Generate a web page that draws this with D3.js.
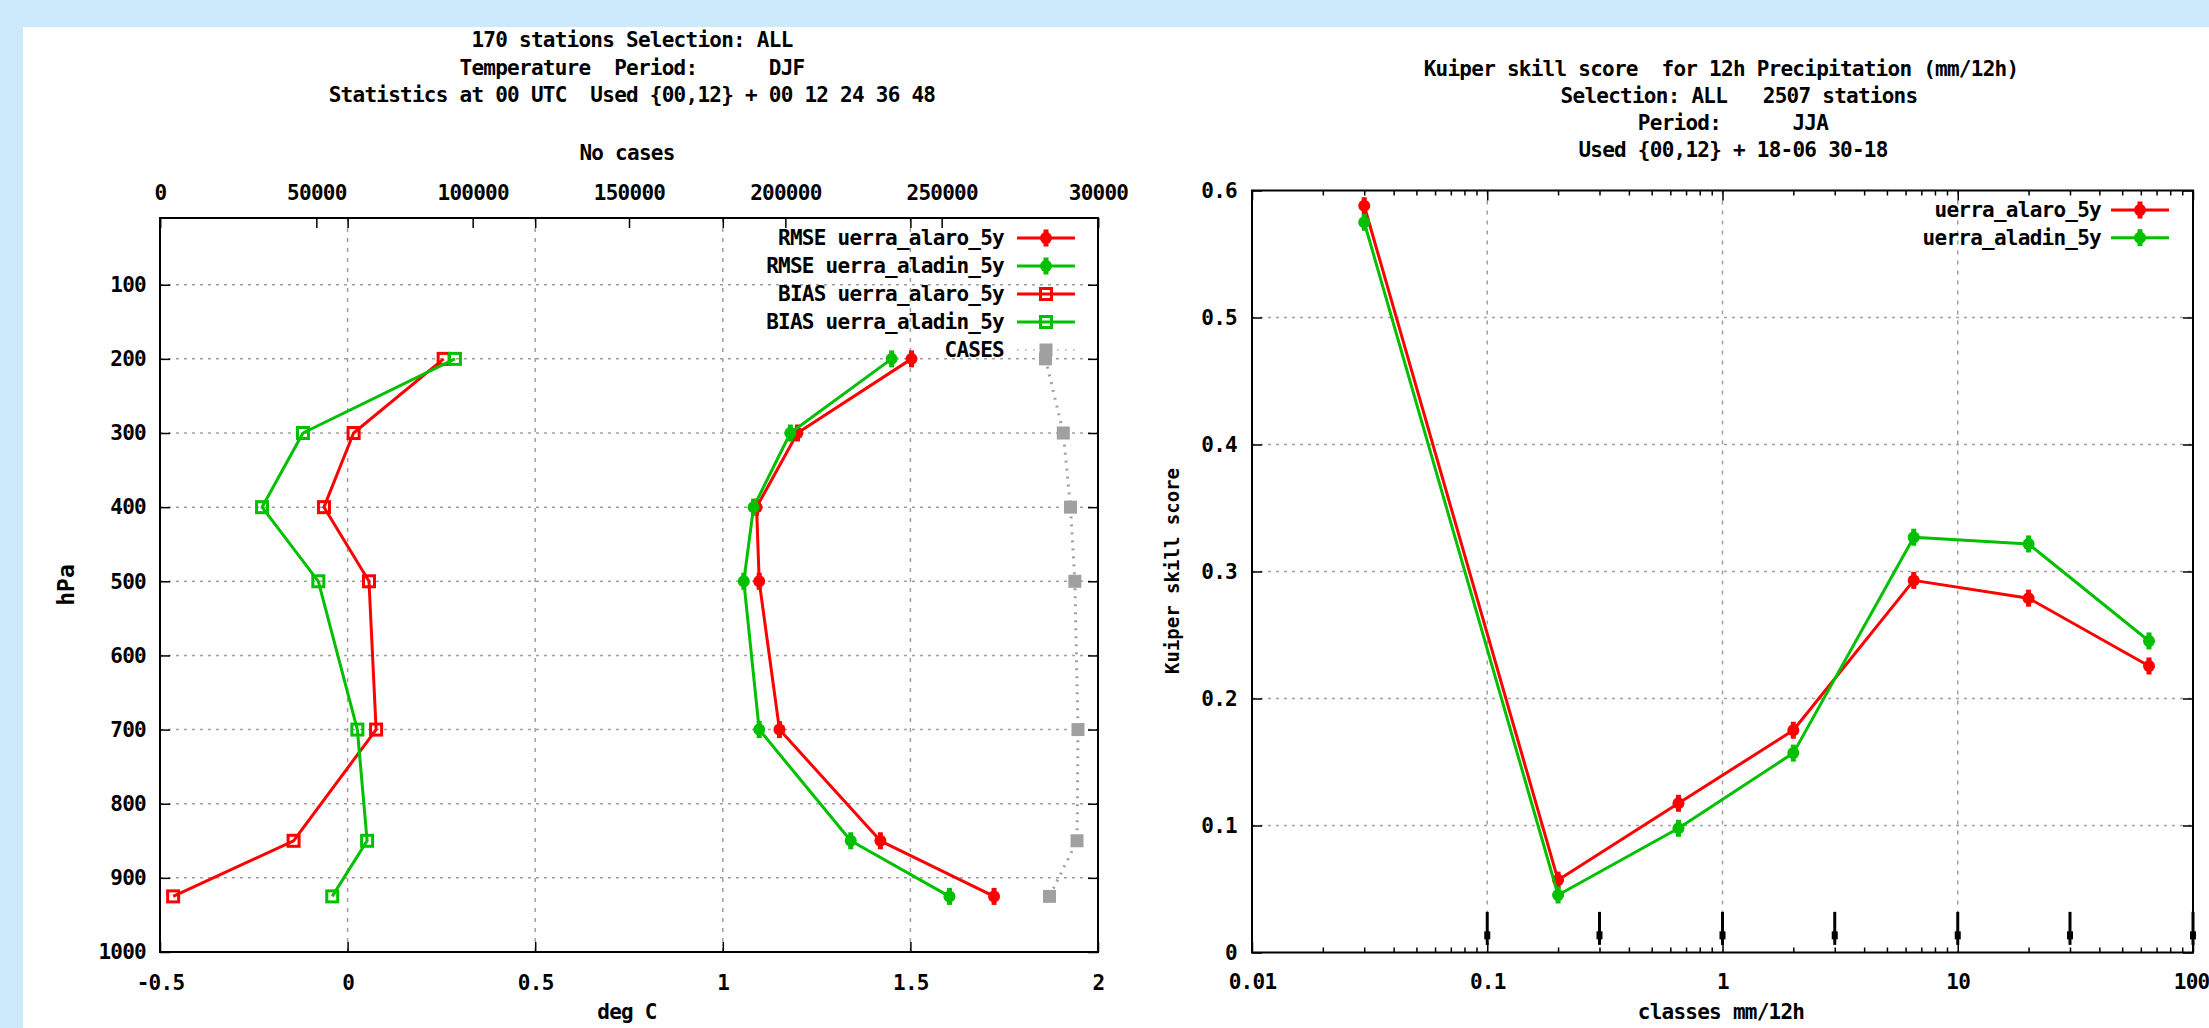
<!DOCTYPE html>
<html lang="en">
<head>
    <meta charset="UTF-8">
    <title>UERRA verification</title>
    <script src="https://d3js.org/d3.v7.min.js"></script>
    <style>
        html, body { margin: 0; padding: 0; background: #cdeafd; overflow: hidden; }
        svg text {
            font-family: "DejaVu Sans Mono", "Liberation Mono", monospace;
            font-size: 21px;
            font-weight: bold;
            letter-spacing: -0.75px;
            fill: #000;
            white-space: pre;
        }
        .grid-h { stroke: #a0a0a0; stroke-width: 1.5; stroke-dasharray: 3, 5; }
        .grid-v { stroke: #a0a0a0; stroke-width: 1.5; stroke-dasharray: 4, 6; }
        .frame { fill: none; stroke: #000; stroke-width: 2; }
        .line { fill: none; stroke-width: 3; stroke-linejoin: round; }
        .tick line { stroke: #000; stroke-width: 1.5; }
    </style>
</head>
<body>
<div id="container"></div>
<script>
    // ---- left panel: upper air temperature profile ----
    var levels = [200, 300, 400, 500, 700, 850, 925];
    var rmseAlaro = [1.503, 1.199, 1.090, 1.097, 1.151, 1.420, 1.723];
    var rmseAladin = [1.450, 1.180, 1.082, 1.056, 1.097, 1.341, 1.604];
    var biasAlaro = [0.256, 0.016, -0.063, 0.057, 0.076, -0.144, -0.465];
    var biasAladin = [0.286, -0.119, -0.228, -0.078, 0.026, 0.052, -0.041];
    var cases = [283200, 288900, 291200, 292600, 293600, 293300, 284500];

    var pressureTicks = [100, 200, 300, 400, 500, 600, 700, 800, 900, 1000];
    var tempTicks = [-0.5, 0, 0.5, 1, 1.5, 2];
    var tempTickLabels = ["-0.5", "0", "0.5", "1", "1.5", "2"];
    var caseTicks = [0, 50000, 100000, 150000, 200000, 250000, 300000];
    var caseTickLabels = ["0", "50000", "100000", "150000", "200000", "250000", "30000"];

    var leftTitle = ["170 stations Selection: ALL",
        "Temperature  Period:      DJF",
        "Statistics at 00 UTC  Used {00,12} + 00 12 24 36 48"];

    // ---- right panel: Kuiper skill score ----
    var classes = [0.03, 0.2, 0.65, 2, 6.5, 20, 65];
    var kuiperAlaro = [0.588, 0.057, 0.1175, 0.175, 0.293, 0.279, 0.2256];
    var kuiperAladin = [0.575, 0.0453, 0.0978, 0.157, 0.327, 0.3217, 0.2453];
    var thresholds = [0.1, 0.3, 1, 3, 10, 30, 100];

    var kuiperTicks = [0, 0.1, 0.2, 0.3, 0.4, 0.5, 0.6];
    var kuiperTickLabels = ["0", "0.1", "0.2", "0.3", "0.4", "0.5", "0.6"];
    var classTicks = [0.01, 0.1, 1, 10, 100];
    var classTickLabels = ["0.01", "0.1", "1", "10", "100"];

    var rightTitle = ["Kuiper skill score  for 12h Precipitation (mm/12h)",
        "Selection: ALL   2507 stations",
        "Period:      JJA",
        "Used {00,12} + 18-06 30-18"];

    var RED = "#ff0000", GREEN = "#00c000", GREY = "#a0a0a0";

    var svg = d3.select("#container").append("svg")
        .attr("width", 2209)
        .attr("height", 1028);

    // white sheet on the blue page
    svg.append("rect")
        .attr("x", 23).attr("y", 27)
        .attr("width", 2209 - 23).attr("height", 1028 - 27)
        .attr("fill", "#fff");

    // point markers similar to gnuplot point types
    function marker(g, type, color, cx, cy) {
        if (type === "plus") {
            g.append("circle").attr("cx", cx).attr("cy", cy).attr("r", 6).attr("fill", color);
            g.append("rect").attr("x", cx - 2.5).attr("y", cy - 8.5)
                .attr("width", 5).attr("height", 17).attr("fill", color);
        } else if (type === "box") {
            g.append("rect").attr("x", cx - 5.5).attr("y", cy - 5.5)
                .attr("width", 11).attr("height", 11)
                .attr("fill", "none").attr("stroke", color).attr("stroke-width", 3);
        } else if (type === "fbox") {
            g.append("rect").attr("x", cx - 6.5).attr("y", cy - 6.5)
                .attr("width", 13).attr("height", 13).attr("fill", color);
        }
    }

    function addAxis(gen, tx, ty) {
        var g = svg.append("g")
            .attr("transform", "translate(" + tx + "," + ty + ")")
            .call(gen);
        g.select(".domain").remove();
        return g;
    }

    function labelFrom(ticks, labels) {
        return function (d) { return labels[ticks.indexOf(d)]; };
    }

    // =================== LEFT PANEL ===================
    var L = { left: 160, right: 1098, top: 218, bottom: 952 };
    var x = d3.scaleLinear().domain([-0.5, 2]).range([L.left, L.right]);
    var x2 = d3.scaleLinear().domain([0, 300000]).range([L.left, L.right]);
    var y = d3.scaleLinear().domain([10, 1000]).range([L.top, L.bottom]);

    // grid
    svg.append("g").selectAll("line")
        .data(pressureTicks.filter(function (p) { return p < 1000; }))
        .enter().append("line")
        .attr("class", "grid-h")
        .attr("x1", L.left).attr("x2", L.right)
        .attr("y1", function (d) { return y(d); })
        .attr("y2", function (d) { return y(d); });
    svg.append("g").selectAll("line")
        .data(tempTicks.filter(function (t) { return t > -0.5 && t < 2; }))
        .enter().append("line")
        .attr("class", "grid-v")
        .attr("y1", L.top).attr("y2", L.bottom)
        .attr("x1", function (d) { return x(d); })
        .attr("x2", function (d) { return x(d); });

    // axes (gnuplot style: ticks point inward)
    addAxis(d3.axisLeft(y).tickValues(pressureTicks).tickSize(-10).tickPadding(14)
        .tickFormat(d3.format("d")), L.left, 0);
    addAxis(d3.axisRight(y).tickValues(pressureTicks).tickSize(-10).tickFormat(""), L.right, 0);
    addAxis(d3.axisBottom(x).tickValues(tempTicks).tickSize(-10)
        .tickFormat(labelFrom(tempTicks, tempTickLabels)), 0, L.bottom)
        .selectAll("text").attr("y", 31).attr("dy", "0.35em");
    addAxis(d3.axisTop(x).tickValues(tempTicks).tickSize(-10).tickFormat(""), 0, L.top);
    addAxis(d3.axisTop(x2).tickValues(caseTicks).tickSize(-10)
        .tickFormat(labelFrom(caseTicks, caseTickLabels)), 0, L.top)
        .selectAll("text").attr("y", -25).attr("dy", "0.35em");

    // series
    var leftSeries = [
        { name: "RMSE uerra_alaro_5y", values: rmseAlaro, color: RED, type: "plus", sx: x },
        { name: "RMSE uerra_aladin_5y", values: rmseAladin, color: GREEN, type: "plus", sx: x },
        { name: "BIAS uerra_alaro_5y", values: biasAlaro, color: RED, type: "box", sx: x },
        { name: "BIAS uerra_aladin_5y", values: biasAladin, color: GREEN, type: "box", sx: x },
        { name: "CASES", values: cases, color: GREY, type: "fbox", sx: x2, dotted: true }
    ];

    leftSeries.forEach(function (s, k) {
        var pts = levels.map(function (p, i) { return { p: p, v: s.values[i] }; });
        var line = d3.line()
            .x(function (d) { return s.sx(d.v); })
            .y(function (d) { return y(d.p); });
        var g = svg.append("g");
        var path = g.append("path").datum(pts)
            .attr("class", "line")
            .attr("stroke", s.color)
            .attr("d", line);
        if (s.dotted) path.attr("stroke-width", 1).attr("stroke-dasharray", "2,6");
        pts.forEach(function (d) { marker(g, s.type, s.color, s.sx(d.v), y(d.p)); });

        // legend entry
        var ly = 238 + k * 28;
        svg.append("text").attr("x", 1004).attr("y", ly).attr("dy", "0.35em")
            .attr("text-anchor", "end").text(s.name);
        var lg = svg.append("g");
        lg.append("line").attr("x1", 1017).attr("x2", 1075).attr("y1", ly).attr("y2", ly)
            .attr("stroke", s.color)
            .attr("stroke-width", s.dotted ? 1 : 3)
            .attr("stroke-dasharray", s.dotted ? "2,6" : null);
        marker(lg, s.type, s.color, 1046, ly);
    });

    svg.append("rect").attr("class", "frame")
        .attr("x", L.left).attr("y", L.top)
        .attr("width", L.right - L.left).attr("height", L.bottom - L.top);

    // titles and axis labels
    leftTitle.forEach(function (t, i) {
        svg.append("text").attr("x", 632).attr("y", 40 + i * 27.5).attr("dy", "0.35em")
            .attr("text-anchor", "middle").text(t);
    });
    svg.append("text").attr("x", 627).attr("y", 153).attr("dy", "0.35em")
        .attr("text-anchor", "middle").text("No cases");
    svg.append("text").attr("x", 627).attr("y", 1012).attr("dy", "0.35em")
        .attr("text-anchor", "middle").text("deg C");
    svg.append("text")
        .attr("transform", "translate(66,585) rotate(-90)")
        .attr("dy", "0.35em").attr("text-anchor", "middle")
        .style("font-size", "23px").style("letter-spacing", "0px")
        .text("hPa");

    // =================== RIGHT PANEL ===================
    var R = { left: 1252, right: 2193, top: 190.5, bottom: 952.5 };
    var xr = d3.scaleLog().domain([0.01, 100]).range([R.left, R.right]);
    var yr = d3.scaleLinear().domain([0, 0.6]).range([R.bottom, R.top]);

    var isDecade = function (d) {
        return Math.abs(Math.log10(d) - Math.round(Math.log10(d))) < 1e-6;
    };
    var minorTicks = xr.ticks().filter(function (d) { return !isDecade(d); });

    svg.append("g").selectAll("line")
        .data(kuiperTicks.filter(function (v) { return v > 0 && v < 0.6; }))
        .enter().append("line")
        .attr("class", "grid-h")
        .attr("x1", R.left).attr("x2", R.right)
        .attr("y1", function (d) { return yr(d); })
        .attr("y2", function (d) { return yr(d); });
    svg.append("g").selectAll("line")
        .data(classTicks.filter(function (v) { return v > 0.01 && v < 100; }))
        .enter().append("line")
        .attr("class", "grid-v")
        .attr("y1", R.top).attr("y2", R.bottom)
        .attr("x1", function (d) { return xr(d); })
        .attr("x2", function (d) { return xr(d); });

    addAxis(d3.axisLeft(yr).tickValues(kuiperTicks).tickSize(-10).tickPadding(15)
        .tickFormat(labelFrom(kuiperTicks, kuiperTickLabels)), R.left, 0);
    addAxis(d3.axisRight(yr).tickValues(kuiperTicks).tickSize(-10).tickFormat(""), R.right, 0);
    var classAxis = addAxis(d3.axisBottom(xr).tickValues(classTicks).tickSize(-10)
        .tickFormat(labelFrom(classTicks, classTickLabels)), 0, R.bottom);
    classAxis.selectAll("text").attr("y", 29).attr("dy", "0.35em");
    // keep the last label inside the page
    classAxis.selectAll("text").filter(function (d) { return d === 100; })
        .attr("text-anchor", "end").attr("x", 16);
    addAxis(d3.axisBottom(xr).tickValues(minorTicks).tickSize(-5).tickFormat(""), 0, R.bottom);
    addAxis(d3.axisTop(xr).tickValues(classTicks).tickSize(-10).tickFormat(""), 0, R.top);
    addAxis(d3.axisTop(xr).tickValues(minorTicks).tickSize(-5).tickFormat(""), 0, R.top);

    // class threshold marks near the bottom
    var thr = svg.append("g");
    thresholds.forEach(function (t) {
        thr.append("line")
            .attr("x1", xr(t)).attr("x2", xr(t))
            .attr("y1", yr(0.032)).attr("y2", yr(0.006))
            .attr("stroke", "#000").attr("stroke-width", 3);
        thr.append("rect")
            .attr("x", xr(t) - 3).attr("y", yr(0.0135) - 4)
            .attr("width", 6).attr("height", 8).attr("fill", "#000");
    });

    var rightSeries = [
        { name: "uerra_alaro_5y", values: kuiperAlaro, color: RED },
        { name: "uerra_aladin_5y", values: kuiperAladin, color: GREEN }
    ];
    rightSeries.forEach(function (s, k) {
        var pts = classes.map(function (c, i) { return { c: c, v: s.values[i] }; });
        var line = d3.line()
            .x(function (d) { return xr(d.c); })
            .y(function (d) { return yr(d.v); });
        var g = svg.append("g");
        g.append("path").datum(pts)
            .attr("class", "line")
            .attr("stroke", s.color)
            .attr("d", line);
        pts.forEach(function (d) { marker(g, "plus", s.color, xr(d.c), yr(d.v)); });

        var ly = 210 + k * 27.7;
        svg.append("text").attr("x", 2101).attr("y", ly).attr("dy", "0.35em")
            .attr("text-anchor", "end").text(s.name);
        var lg = svg.append("g");
        lg.append("line").attr("x1", 2111).attr("x2", 2169).attr("y1", ly).attr("y2", ly)
            .attr("stroke", s.color).attr("stroke-width", 3);
        marker(lg, "plus", s.color, 2140, ly);
    });

    svg.append("rect").attr("class", "frame")
        .attr("x", R.left).attr("y", R.top)
        .attr("width", R.right - R.left).attr("height", R.bottom - R.top);

    var rightTitleDx = [0, 18, 12, 12];
    rightTitle.forEach(function (t, i) {
        svg.append("text").attr("x", 1721 + rightTitleDx[i]).attr("y", 68.3 + i * 27)
            .attr("dy", "0.35em").attr("text-anchor", "middle").text(t);
    });
    svg.append("text").attr("x", 1721).attr("y", 1012).attr("dy", "0.35em")
        .attr("text-anchor", "middle").text("classes mm/12h");
    svg.append("text")
        .attr("transform", "translate(1172,571) rotate(-90)")
        .attr("dy", "0.35em").attr("text-anchor", "middle")
        .style("font-size", "19px").style("letter-spacing", "0px")
        .text("Kuiper skill score");
</script>
</body>
</html>
